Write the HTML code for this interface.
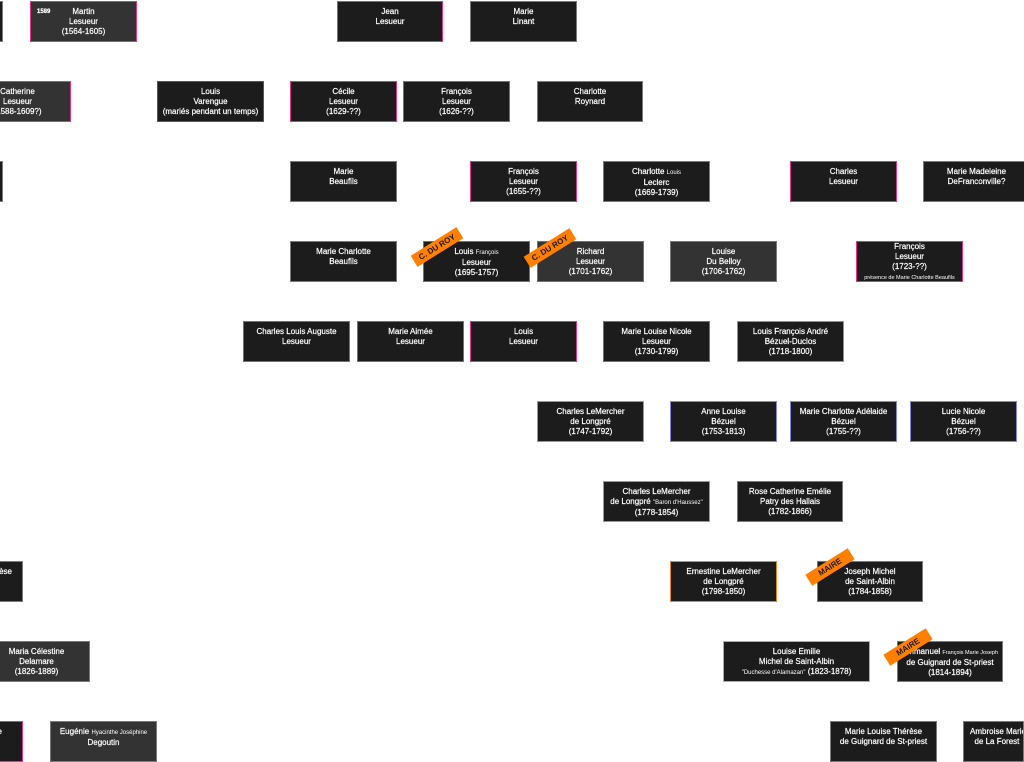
<!DOCTYPE html>
<html><head><meta charset="utf-8">
<style>
html,body{margin:0;padding:0;background:#fff;}
body{width:1024px;height:746px;position:relative;overflow:hidden;font-family:"Liberation Sans",Arial,sans-serif;}
.b{position:absolute;box-sizing:border-box;width:107px;height:41px;border:1px solid #7a7a7a;background:#1c1c1c;color:#fff;font:8px/10px "Liberation Sans",Arial,sans-serif;text-align:center;padding-top:5px;white-space:nowrap;overflow:hidden;-webkit-text-stroke:0.2px #fff;}
.l{background:#333;}
.p{border-color:#e8328a;}
.u{border-color:#4646e0;}
.v{border-color:#8585e6;}
.o{border-color:#ee8420;}
.y{border-color:#d0bc00;}
.s{font-size:6px;-webkit-text-stroke:0;}
.t{font-size:5.5px;-webkit-text-stroke:0;}
.r{position:absolute;width:54px;height:13px;background:#ff8000;color:#1a1a1a;font:bold 8px/13px "Liberation Sans",Arial,sans-serif;text-align:center;transform:translate(-50%,-50%) rotate(-32deg);white-space:nowrap;z-index:5;}
</style></head><body>

<!-- Row 1 -->
<div class="b" style="left:-104px;top:1px;"></div>
<div class="b p l" style="left:30px;top:1px;"><span style="position:absolute;left:6px;top:5px;font-size:6px;font-weight:bold;">1589</span>Martin<br>Lesueur<br>(1564-1605)</div>
<div class="b p" style="left:337px;top:1px;width:106px;">Jean<br>Lesueur</div>
<div class="b" style="left:470px;top:1px;">Marie<br>Linant</div>

<!-- Row 2 -->
<div class="b p l" style="left:-36px;top:81px;">Catherine<br>Lesueur<br>(1588-1609?)</div>
<div class="b u" style="left:157px;top:81px;">Louis<br>Varengue<br>(mariés pendant un temps)</div>
<div class="b p" style="left:290px;top:81px;">Cécile<br>Lesueur<br>(1629-??)</div>
<div class="b p" style="left:403px;top:81px;">François<br>Lesueur<br>(1626-??)</div>
<div class="b" style="left:537px;top:81px;width:106px;">Charlotte<br>Roynard</div>

<!-- Row 3 -->
<div class="b" style="left:-104px;top:161px;"></div>
<div class="b" style="left:290px;top:161px;">Marie<br>Beaufils</div>
<div class="b p" style="left:470px;top:161px;">François<br>Lesueur<br>(1655-??)</div>
<div class="b" style="left:603px;top:161px;">Charlotte <span class="s">Louis</span><br>Leclerc<br>(1669-1739)</div>
<div class="b p" style="left:790px;top:161px;">Charles<br>Lesueur</div>
<div class="b" style="left:923px;top:161px;">Marie Madeleine<br>DeFranconville?</div>

<!-- Row 4 -->
<div class="b" style="left:290px;top:241px;">Marie Charlotte<br>Beaufils</div>
<div class="b p" style="left:423px;top:241px;">Louis <span class="s">François</span><br>Lesueur<br>(1695-1757)</div>
<div class="b p l" style="left:537px;top:241px;">Richard<br>Lesueur<br>(1701-1762)</div>
<div class="b l" style="left:670px;top:241px;">Louise<br>Du Belloy<br>(1706-1762)</div>
<div class="b p" style="left:856px;top:241px;padding-top:0;">François<br>Lesueur<br>(1723-??)<br><span class="t">présence de Marie Charlotte Beaufils</span></div>

<!-- Row 5 -->
<div class="b p" style="left:243px;top:321px;">Charles Louis Auguste<br>Lesueur</div>
<div class="b p" style="left:357px;top:321px;">Marie Aimée<br>Lesueur</div>
<div class="b p" style="left:470px;top:321px;">Louis<br>Lesueur</div>
<div class="b p" style="left:603px;top:321px;">Marie Louise Nicole<br>Lesueur<br>(1730-1799)</div>
<div class="b v" style="left:737px;top:321px;">Louis François André<br>Bézuel-Duclos<br>(1718-1800)</div>

<!-- Row 6 -->
<div class="b o" style="left:537px;top:401px;">Charles LeMercher<br>de Longpré<br>(1747-1792)</div>
<div class="b v" style="left:670px;top:401px;">Anne Louise<br>Bézuel<br>(1753-1813)</div>
<div class="b v" style="left:790px;top:401px;">Marie Charlotte Adélaide<br>Bézuel<br>(1755-??)</div>
<div class="b v" style="left:910px;top:401px;">Lucie Nicole<br>Bézuel<br>(1756-??)</div>

<!-- Row 7 -->
<div class="b o" style="left:603px;top:481px;">Charles LeMercher<br>de Longpré <span class="s">"Baron d'Haussez"</span><br>(1778-1854)</div>
<div class="b" style="left:737px;top:481px;width:106px;">Rose Catherine Emélie<br>Patry des Hallais<br>(1782-1866)</div>

<!-- Row 8 -->
<div class="b" style="left:-84px;top:561px;text-align:right;padding-right:10px;">Marie Louise Thérèse</div>
<div class="b o" style="left:670px;top:561px;">Ernestine LeMercher<br>de Longpré<br>(1798-1850)</div>
<div class="b" style="left:817px;top:561px;width:106px;">Joseph Michel<br>de Saint-Albin<br>(1784-1858)</div>

<!-- Row 9 -->
<div class="b l" style="left:-17px;top:641px;">Maria Célestine<br>Delamare<br>(1826-1889)</div>
<div class="b y" style="left:723px;top:641px;width:147px;">Louise Emilie<br>Michel de Saint-Albin<br><span class="s">"Duchesse d'Alamazan"</span> (1823-1878)</div>
<div class="b" style="left:897px;top:641px;width:106px;">Emmanuel <span class="t">François Marie Joseph</span><br>de Guignard de St-priest<br>(1814-1894)</div>

<!-- Row 10 -->
<div class="b p" style="left:-84px;top:721px;text-align:right;padding-right:20px;">Marie Louise Thérèse</div>
<div class="b l" style="left:50px;top:721px;">Eugénie <span class="s">Hyacinthe Joséphine</span><br>Degoutin</div>
<div class="b" style="left:830px;top:721px;">Marie Louise Thérèse<br>de Guignard de St-priest</div>
<div class="b" style="left:963px;top:721px;width:61px;text-align:left;padding-left:6px;">Ambroise Marie<br>&nbsp;&nbsp;de La Forest</div>

<!-- Ribbons -->
<div class="r" style="left:437px;top:247px;">C. DU ROY</div>
<div class="r" style="left:550px;top:248px;">C. DU ROY</div>
<div class="r" style="left:830px;top:567px;width:50px;">MAIRE</div>
<div class="r" style="left:908px;top:647px;width:50px;">MAIRE</div>

</body></html>
